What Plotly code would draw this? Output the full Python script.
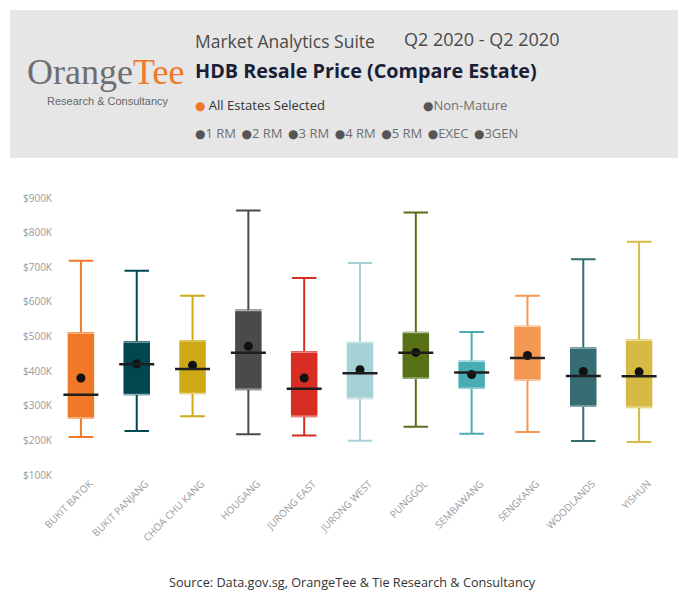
import plotly.graph_objects as go

# The page body has an 8px margin, so the figure is drawn 8px in and 8px down.
OFF = 8
W, H = 686 - OFF, 592 - OFF

estates = ["BUKIT BATOK", "BUKIT PANJANG", "CHOA CHU KANG", "HOUGANG", "JURONG EAST",
           "JURONG WEST", "PUNGGOL", "SEMBAWANG", "SENGKANG", "WOODLANDS", "YISHUN"]
# values in thousands of S$
lower = [210, 227, 270, 218, 214, 199, 239, 219, 224, 198, 195]
q1 = [265, 333, 336, 348, 270, 322, 380, 351, 375, 299, 296]
median = [332, 420, 406, 453, 349, 394, 453, 396, 438, 386, 385]
q3 = [510, 484, 487, 575, 455, 482, 511, 428, 529, 466, 489]
upper = [719, 690, 618, 864, 669, 712, 858, 513, 618, 723, 774]
mean = [380, 421, 417, 472, 380, 404, 454, 390, 445, 399, 398]
colors = ["#F07826", "#01474F", "#CDAA15", "#4A4A4B", "#D82D22", "#A6D1D6",
          "#587116", "#47ADB3", "#F39752", "#356D72", "#D6BA44"]

tick_vals = [100, 200, 300, 400, 500, 600, 700, 800, 900]
tick_text = ["$100K", "$200K", "$300K", "$400K", "$500K", "$600K", "$700K", "$800K", "$900K"]

# plot area, in reference-page pixels
PL, PR, PT, PB = 53, 667, 198, 475
L, T = PL - OFF, PT - OFF
R, B = W - (PR - OFF), H - (PB - OFF)
pw, ph = W - L - R, H - T - B


def px(x):
    return (x - OFF - L) / pw


def py(y):
    return (H - B - (y - OFF)) / ph


BOXGAP = 0.373
HW = (1 - BOXGAP) / 2

fig = go.Figure()
for i, name in enumerate(estates):
    fig.add_trace(go.Box(
        x=[name], q1=[q1[i]], median=[median[i]], q3=[q3[i]],
        lowerfence=[lower[i]], upperfence=[upper[i]],
        fillcolor=colors[i], line=dict(color=colors[i], width=2),
        whiskerwidth=1, boxpoints=False, showlegend=False, hoverinfo="skip",
    ))

shapes = []
# header band
shapes.append(dict(type="rect", xref="paper", yref="paper",
                   x0=px(10), x1=px(680), y0=py(158), y1=py(10),
                   fillcolor="#E6E6E6", line=dict(width=0), layer="below"))
for i in range(len(estates)):
    shapes.append(dict(type="rect", xref="x", yref="y",
                       x0=i - HW, x1=i + HW, y0=q1[i], y1=q3[i],
                       line=dict(color="rgba(255,255,255,0.55)", width=1.2)))
    shapes.append(dict(type="line", xref="x", yref="y",
                       x0=i - HW, x1=i + HW, y0=median[i], y1=median[i],
                       line=dict(color="#1E1E1E", width=2.5)))

fig.add_trace(go.Scatter(x=estates, y=mean, mode="markers",
                         marker=dict(color="#111111", size=9),
                         showlegend=False, hoverinfo="skip"))

SANS = "Open Sans, Segoe UI, sans-serif"
ann = []


def text(x, y, s, size, color, xanchor="left", family=SANS):
    ann.append(dict(x=px(x), y=py(y), xref="paper", yref="paper", text=s,
                    showarrow=False, xanchor=xanchor, yanchor="middle",
                    xshift=-2 if xanchor == "left" else 0,
                    font=dict(size=size, color=color, family=family)))


def dot(color):
    return ("<span style='color:%s;font-family:DejaVu Sans;font-size:12px'>●</span>" % color)


text(27, 72, "<span style='color:#6D6E71'>Orange</span><span style='color:#F07826'>Tee</span>",
     36, "#6D6E71", family="Liberation Serif")
text(47, 101, "Research &amp; Consultancy", 11, "#666666", family="Liberation Sans")
text(195, 41, "Market Analytics Suite", 17.5, "#4A4A4A")
text(404, 39, "Q2 2020 - Q2 2020", 18, "#4A4A4A")
text(195, 71, "<b>HDB Resale Price (Compare Estate)</b>", 19.8, "#1A1F36")
text(195, 105, dot("#F07826") + " All Estates Selected", 13, "#333333")
text(423, 105, dot("#555555") + "Non-Mature", 13, "#707070")
items = ["1 RM", "2 RM", "3 RM", "4 RM", "5 RM", "EXEC", "3GEN"]
text(195, 133, " \u2009".join(dot("#555555") + it for it in items), 13, "#707070")
text(352, 582, "Source: Data.gov.sg, OrangeTee &amp; Tie Research &amp; Consultancy", 12.7,
     "#333333", xanchor="center")

fig.update_layout(
    width=W, height=H, margin=dict(l=L, r=R, t=T, b=B, autoexpand=False),
    paper_bgcolor="white", plot_bgcolor="white",
    boxmode="overlay", boxgap=BOXGAP,
    shapes=shapes, annotations=ann,
    xaxis=dict(type="category", categoryarray=estates, tickangle=-45,
               ticklabelshift=9,
               showgrid=False, zeroline=False, showline=False,
               tickfont=dict(size=10, color="#999999", family=SANS),
               range=[-0.5, len(estates) - 0.5]),
    yaxis=dict(range=[100, 900], tickvals=tick_vals, ticktext=tick_text,
               showgrid=False, zeroline=False, showline=False,
               tickfont=dict(size=10, color="#999999", family=SANS)),
    font=dict(family=SANS),
)

fig.write_html("out.html")
